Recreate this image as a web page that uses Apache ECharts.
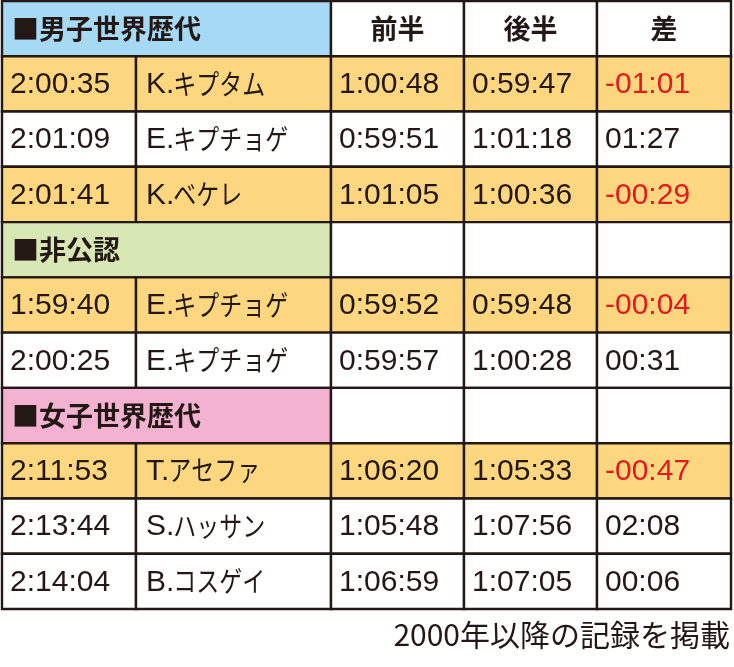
<!DOCTYPE html>
<html>
<head>
<meta charset="utf-8">
<script src="https://cdn.jsdelivr.net/npm/echarts@6/dist/echarts.min.js"></script>
<style>
html,body{margin:0;padding:0;background:#fff;}
#chart{width:734px;height:667px;}
</style>
</head>
<body>
<div id="chart"></div>
<script>
// ---- data ----
const sectionTitles = ['■男子世界歴代', '■非公認', '■女子世界歴代'];
const sectionSizes = [3, 2, 3];
const columnHeaders = ['前半', '後半', '差'];
const finishTimes = ['2:00:35', '2:01:09', '2:01:41', '1:59:40', '2:00:25', '2:11:53', '2:13:44', '2:14:04'];
const runnerNames = ['K.キプタム', 'E.キプチョゲ', 'K.ベケレ', 'E.キプチョゲ', 'E.キプチョゲ', 'T.アセファ', 'S.ハッサン', 'B.コスゲイ'];
const firstHalf = ['1:00:48', '0:59:51', '1:01:05', '0:59:52', '0:59:57', '1:06:20', '1:05:48', '1:06:59'];
const secondHalf = ['0:59:47', '1:01:18', '1:00:36', '0:59:48', '1:00:28', '1:05:33', '1:07:56', '1:07:05'];
const splitDiff = ['-01:01', '01:27', '-00:29', '-00:04', '00:31', '-00:47', '02:08', '00:06'];
const footnote = '2000年以降の記録を掲載';

// ---- layout / style ----
const colEdges = [0, 134, 329, 462, 595, 729];
const sectionColors = ['#a5d9f4', '#d8e8b4', '#f3b3d0'];
const highlightColor = '#fdd680';
const ink = '#231815';
const red = '#e01a1e';
const numFont = '"Liberation Sans", Arial, sans-serif';
const numFontCss = '30px ' + numFont;
const kanaFontCss = '28px "Noto Sans CJK JP"';
const kanaScaleX = 0.82;

const measureCtx = document.createElement('canvas').getContext('2d');
function textWidth(txt, font) { measureCtx.font = font; return measureCtx.measureText(txt).width; }

const cells = [];
let row = 0, rec = 0;
sectionTitles.forEach((title, s) => {
  cells.push({c0: 0, c1: 2, row, text: title, fill: sectionColors[s], kind: 'section'});
  for (let c = 2; c < 5; c++) {
    cells.push({c0: c, c1: c + 1, row, text: s === 0 ? columnHeaders[c - 2] : '', fill: '#ffffff', kind: 'colhead'});
  }
  row++;
  for (let i = 0; i < sectionSizes[s]; i++, rec++, row++) {
    const neg = splitDiff[rec].charAt(0) === '-';
    const fill = neg ? highlightColor : '#ffffff';
    cells.push({c0: 0, c1: 1, row, text: finishTimes[rec], fill, kind: 'num'});
    cells.push({c0: 1, c1: 2, row, text: runnerNames[rec], fill, kind: 'name'});
    cells.push({c0: 2, c1: 3, row, text: firstHalf[rec], fill, kind: 'num'});
    cells.push({c0: 3, c1: 4, row, text: secondHalf[rec], fill, kind: 'num'});
    cells.push({c0: 4, c1: 5, row, text: splitDiff[rec], fill, kind: 'num', color: neg ? red : ink});
  }
});
const totalRows = row;

function renderItem(params, api) {
  const cell = cells[params.dataIndex];
  const p0 = api.coord([api.value(0), api.value(2)]);
  const p1 = api.coord([api.value(1), api.value(2) + 1]);
  const x = p0[0], y = p0[1], w = p1[0] - p0[0], h = p1[1] - p0[1];
  const children = [{
    type: 'rect',
    shape: {x, y, width: w, height: h},
    style: {fill: cell.fill, stroke: ink, lineWidth: 2.4}
  }];
  const cy = y + h / 2;
  if (cell.kind === 'section') {
    children.push({type: 'text', style: {x: x + 10, y: cy, text: cell.text, fill: ink,
      font: 'bold 27px "Noto Sans CJK JP"', verticalAlign: 'middle', align: 'left'}});
  } else if (cell.kind === 'colhead') {
    children.push({type: 'text', style: {x: x + w / 2, y: cy, text: cell.text, fill: ink,
      font: 'bold 27px "Noto Sans CJK JP"', verticalAlign: 'middle', align: 'left' === 'x' ? 'left' : 'center'}});
  } else if (cell.kind === 'name') {
    const m = cell.text.match(/^([A-Za-z]+\.)(.*)$/);
    const lx = x + 10;
    const lw = textWidth(m[1], numFontCss);
    children.push({type: 'text', style: {x: lx, y: cy + 1, text: m[1], fill: ink,
      font: numFontCss, verticalAlign: 'middle', align: 'left'}});
    children.push({type: 'text', x: lx + lw - 1, y: cy, scaleX: kanaScaleX,
      style: {x: 0, y: 0, text: m[2], fill: ink, font: kanaFontCss, verticalAlign: 'middle', align: 'left'}});
  } else {
    children.push({type: 'text', style: {x: x + 8, y: cy + 1, text: cell.text, fill: cell.color || ink,
      font: numFontCss, verticalAlign: 'middle', align: 'left'}});
  }
  return {type: 'group', children};
}

const chart = echarts.init(document.getElementById('chart'), null, {renderer: 'canvas'});
chart.setOption({
  animation: false,
  backgroundColor: '#ffffff',
  grid: {left: 2, right: 3, top: 1, bottom: 58},
  xAxis: {type: 'value', min: colEdges[0], max: colEdges[colEdges.length - 1], show: false},
  yAxis: {type: 'value', min: 0, max: totalRows, inverse: true, show: false},
  graphic: [{
    type: 'text', right: 4, top: 620,
    style: {text: footnote, fill: ink, font: '30px "Noto Sans CJK JP"'}
  }],
  series: [{
    type: 'custom',
    renderItem,
    clip: false,
    data: cells.map(c => [colEdges[c.c0], colEdges[c.c1], c.row])
  }]
});
</script>
</body>
</html>
